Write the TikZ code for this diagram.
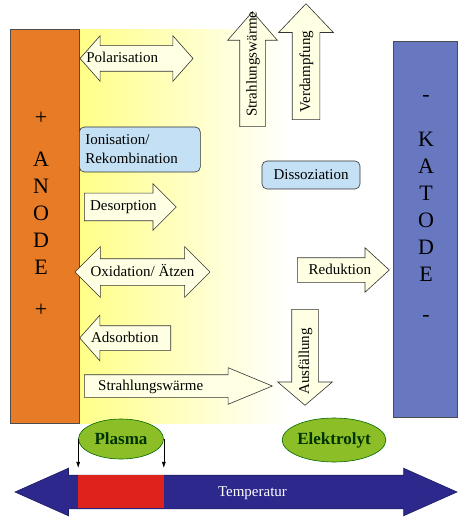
\documentclass[tikz,border=0pt]{standalone}
\usepackage{fontspec}
\setmainfont{Liberation Serif}
\usetikzlibrary{arrows.meta,shapes.arrows,shapes.geometric}
\definecolor{anodeorange}{RGB}{232,124,38}
\definecolor{katodeblue}{RGB}{104,120,192}
\definecolor{tempblue}{RGB}{44,40,140}
\definecolor{hotred}{RGB}{222,34,28}
\definecolor{lightblue}{RGB}{196,224,244}
\definecolor{blobgreen}{RGB}{140,190,40}
\definecolor{arrowfill}{RGB}{255,255,228}
\tikzset{%
	>={Latex[width=4pt,length=6pt]},
	% Specifications for style of nodes:
	base/.style = {draw=black!80, line width=0.6pt, inner xsep=2pt, inner ysep=0pt,
		text centered, font=\fontsize{15}{18}\selectfont},
	electrode/.style = {rectangle, draw=black!70, line width=0.6pt, inner sep=0pt},
	letters/.style = {align=center, font=\fontsize{22}{27}\selectfont},
	oneway/.style = {base, single arrow, fill=arrowfill, anchor=tail},
	twoway/.style = {base, double arrow, fill=arrowfill},
	process/.style = {base, rectangle, rounded corners=5pt, fill=lightblue,
		inner xsep=6pt},
	phase/.style = {ellipse, draw=black!60!green, line width=0.6pt, fill=blobgreen,
		inner sep=0pt, text=black!80!green,
		font=\fontsize{17}{20}\selectfont\bfseries},
}

\begin{document}
\begin{tikzpicture}[x=1pt, y=-1pt]
		\useasboundingbox (0,0) rectangle (458,518);
		
		% glow in front of the anode
		\shade[left color=yellow!47!white, middle color=yellow!20!white, right color=white]
		(79,30) rectangle (290,423);
		
		% electrodes
		\node (anode)      [electrode, fill=anodeorange, minimum width=69pt, minimum height=394pt] at (44.5,226) {};
		
		\node (anodetext)  [letters] at (41,214) {+\\[15pt]A\\N\\O\\D\\E\\[15pt]+};
		
		\node (katode)     [electrode, fill=katodeblue, minimum width=64pt, minimum height=376pt] at (425,229) {};
		
		\node (katodetext) [letters] at (426,208) {-\\[18pt]K\\A\\T\\O\\D\\E\\[13pt]-};
		
		% processes at the anode
		\node (polarisation) [twoway, minimum height=113pt, text height=16.5pt, text depth=8.5pt,
			double arrow head extend=10pt, double arrow tip angle=97] at (136.5,58.5)
			{\makebox[43pt][r]{Polarisation}};
		
		\node (ionisation)   [process, anchor=west, text width=109pt, align=left, minimum height=45pt,
			font=\fontsize{15}{19}\selectfont] at (79,149.5) {Ionisation/\\Rekombination};
		
		\node (desorption)   [oneway, minimum height=92pt, text height=17.5pt, text depth=9.5pt,
			single arrow head extend=9.5pt, single arrow tip angle=90] at (84,207) {Desorption};
		
		\node (oxidation)    [twoway, minimum height=125pt, text height=17pt, text depth=9pt,
			double arrow head extend=12pt, double arrow tip angle=90] at (142.5,272) {Oxidation/ Ätzen};
		
		\node (adsorbtion)   [oneway, shape border rotate=180, minimum height=91pt, text height=16pt,
			text depth=8pt, single arrow head extend=10.5pt, single arrow tip angle=97] at (171,338)
			{\makebox[56pt][r]{Adsorbtion}};
		
		\node (strahlung)    [oneway, minimum height=188pt, text height=15pt, text depth=7pt,
			single arrow head extend=7pt, single arrow tip angle=45] at (84,386)
			{\makebox[77pt][r]{Strahlungswärme}};
		
		% processes in the electrolyte
		\node (strahlungup)  [oneway, rotate=90, minimum height=115pt, text height=16.5pt, text depth=8.5pt,
			single arrow head extend=12pt, single arrow tip angle=82] at (252.5,127)
			{\makebox[80pt][l]{Strahlungswärme}};
		
		\node (verdampfung)  [oneway, rotate=90, minimum height=116pt, text height=17.5pt, text depth=9.5pt,
			single arrow head extend=13.5pt, single arrow tip angle=87] at (306,120)
			{\makebox[76pt][r]{Verdampfung}};
		
		\node (dissoziation) [process, minimum width=98pt, minimum height=28pt] at (311,175) {Dissoziation};
		
		\node (reduktion)    [oneway, minimum height=92pt, text height=16pt, text depth=8pt,
			single arrow head extend=10pt, single arrow tip angle=85] at (297,270)
			{\makebox[56pt][l]{Reduktion}};
		
		\node (ausfallung)   [oneway, rotate=90, shape border rotate=180, minimum height=96pt,
			text height=17pt, text depth=9pt, single arrow head extend=14pt, single arrow tip angle=99]
			at (305,309) {\makebox[47pt][r]{Ausfällung}};
		
		% temperature scale
		\node (temperatur) [twoway, fill=tempblue, draw=tempblue!70!black, text=white, minimum height=442pt,
			text height=20.5pt, text depth=12.5pt, double arrow head extend=7pt, double arrow tip angle=48]
			at (236,492) {\makebox[36pt][l]{Temperatur}};
		
		\node (hotzone)    [rectangle, fill=hotred, inner sep=0pt, minimum width=86pt, minimum height=33pt]
			at (121,491.5) {};
		
		\node (plasma)     [phase, minimum width=85pt, minimum height=40pt] at (121,439) {Plasma};
		
		\node (elektrolyt) [phase, minimum width=89pt, minimum height=44pt] at (334,440) {Elektrolyt};
		
		\draw[->, shorten >=7pt] (plasma.west) -- (plasma.west |- hotzone.north);
		
		\draw[->, shorten >=7pt] (plasma.east) -- (plasma.east |- hotzone.north);
		
	\end{tikzpicture}
\end{document}
